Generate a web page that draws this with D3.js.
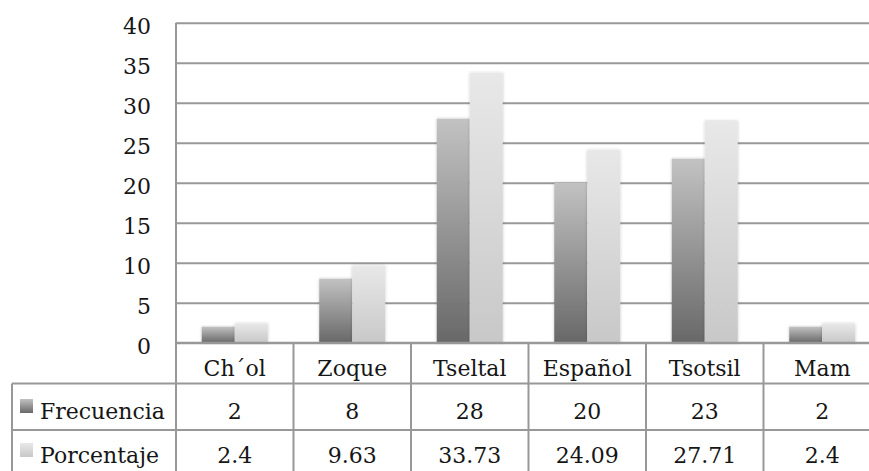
<!DOCTYPE html>
<html>
<head>
<meta charset="utf-8">
<script src="https://cdn.jsdelivr.net/npm/d3@7"></script>
<style>
  html, body { margin: 0; padding: 0; background: #fff; }
  svg { display: block; }
  text { font-family: "DejaVu Serif", serif; fill: #161616; }
</style>
</head>
<body>
<svg id="chart" width="869" height="471"></svg>
<script>
// Languages spoken, counts and percentages
const categories = ["Ch\u00b4ol", "Zoque", "Tseltal", "Espa\u00f1ol", "Tsotsil", "Mam"];
const frecuencia = [2, 8, 28, 20, 23, 2];
const porcentaje = [2.4, 9.63, 33.73, 24.09, 27.71, 2.4];
const porcentajeLabels = ["2.4", "9.63", "33.73", "24.09", "27.71", "2.4"];
const seriesNames = ["Frecuencia", "Porcentaje"];
const yTicks = [0, 5, 10, 15, 20, 25, 30, 35, 40];

const svg = d3.select("#chart");
const fontSize = 22;
const gridColor = "#989898";

const plotLeft = 176, plotTop = 22.7, plotBottom = 342.7;
const catWidth = 117.5;
const tableLeft = 12;
const rowLines = [383.5, 430, 476];

const x = d3.scaleBand().domain(categories)
  .range([plotLeft, plotLeft + catWidth * categories.length])
  .paddingInner(0).paddingOuter(0);
const xs = d3.scaleBand().domain(seriesNames)
  .range([0, x.bandwidth()]).paddingInner(0).paddingOuter(0.78);
const y = d3.scaleLinear().domain([0, 40]).range([plotBottom, plotTop]);

// gradients for the two series
const defs = svg.append("defs");
const grads = [
  { id: "gFre", top: "#c2c2c2", bottom: "#686868" },
  { id: "gPor", top: "#e8e8e8", bottom: "#c8c8c8" }
];
grads.forEach(g => {
  const lg = defs.append("linearGradient").attr("id", g.id)
    .attr("x1", 0).attr("y1", 0).attr("x2", 0).attr("y2", 1);
  lg.append("stop").attr("offset", "0%").attr("stop-color", g.top);
  lg.append("stop").attr("offset", "100%").attr("stop-color", g.bottom);
});
const shadow = defs.append("filter").attr("id", "soft")
  .attr("x", "-30%").attr("y", "-10%").attr("width", "160%").attr("height", "120%");
shadow.append("feDropShadow").attr("dx", 0).attr("dy", 0)
  .attr("stdDeviation", 1.4).attr("flood-color", "#000").attr("flood-opacity", 0.22);

// horizontal gridlines
const grid = d3.axisLeft(y).tickValues(yTicks)
  .tickSize(-(869 - plotLeft + 20)).tickFormat("");
svg.append("g").attr("transform", `translate(${plotLeft},0)`).call(grid)
  .call(g => g.select(".domain").remove())
  .call(g => g.selectAll("line").attr("stroke", gridColor).attr("stroke-width", 2));

// y tick labels
svg.append("g").selectAll("text").data(yTicks).join("text")
  .attr("x", 151).attr("y", d => y(d) + 11.5)
  .attr("text-anchor", "end").attr("font-size", fontSize)
  .text(d => d);

// bars
const seriesValues = [frecuencia, porcentaje];
seriesNames.forEach((s, si) => {
  svg.append("g").selectAll("rect").data(categories).join("rect")
    .attr("x", c => x(c) + xs(s))
    .attr("y", (c, i) => y(seriesValues[si][i]))
    .attr("width", xs.bandwidth())
    .attr("height", (c, i) => y(0) - y(seriesValues[si][i]))
    .attr("fill", `url(#${grads[si].id})`)
    .attr("filter", "url(#soft)");
});

// data table lines
const lines = svg.append("g").attr("stroke", gridColor).attr("stroke-width", 2);
lines.append("line").attr("x1", plotLeft).attr("x2", plotLeft)
  .attr("y1", plotTop).attr("y2", 480);
lines.append("line").attr("x1", plotLeft).attr("x2", 890)
  .attr("y1", plotBottom).attr("y2", plotBottom);
lines.selectAll(".v").data(categories).join("line")
  .attr("x1", c => x(c) + x.bandwidth()).attr("x2", c => x(c) + x.bandwidth())
  .attr("y1", plotBottom).attr("y2", 480);
lines.selectAll(".h").data(rowLines).join("line")
  .attr("x1", tableLeft).attr("x2", 890)
  .attr("y1", d => d).attr("y2", d => d);
lines.append("line").attr("x1", tableLeft).attr("x2", tableLeft)
  .attr("y1", rowLines[0]).attr("y2", 480);

// category labels
svg.append("g").selectAll("text").data(categories).join("text")
  .attr("x", c => x(c) + x.bandwidth() / 2).attr("y", 376)
  .attr("text-anchor", "middle").attr("font-size", fontSize)
  .text(c => c);

// value rows
const rowTexts = [frecuencia.map(String), porcentajeLabels];
const rowBaselines = [419, 463];
rowTexts.forEach((vals, ri) => {
  svg.append("g").selectAll("text").data(categories).join("text")
    .attr("x", c => x(c) + x.bandwidth() / 2).attr("y", rowBaselines[ri])
    .attr("text-anchor", "middle").attr("font-size", fontSize)
    .text((c, i) => vals[i]);
  // legend key and series name
  svg.append("rect").attr("x", 20).attr("y", rowBaselines[ri] - 20)
    .attr("width", 13).attr("height", 14)
    .attr("fill", `url(#${grads[ri].id})`);
  svg.append("text").attr("x", 40).attr("y", rowBaselines[ri])
    .attr("font-size", fontSize).text(seriesNames[ri]);
});
</script>
</body>
</html>
